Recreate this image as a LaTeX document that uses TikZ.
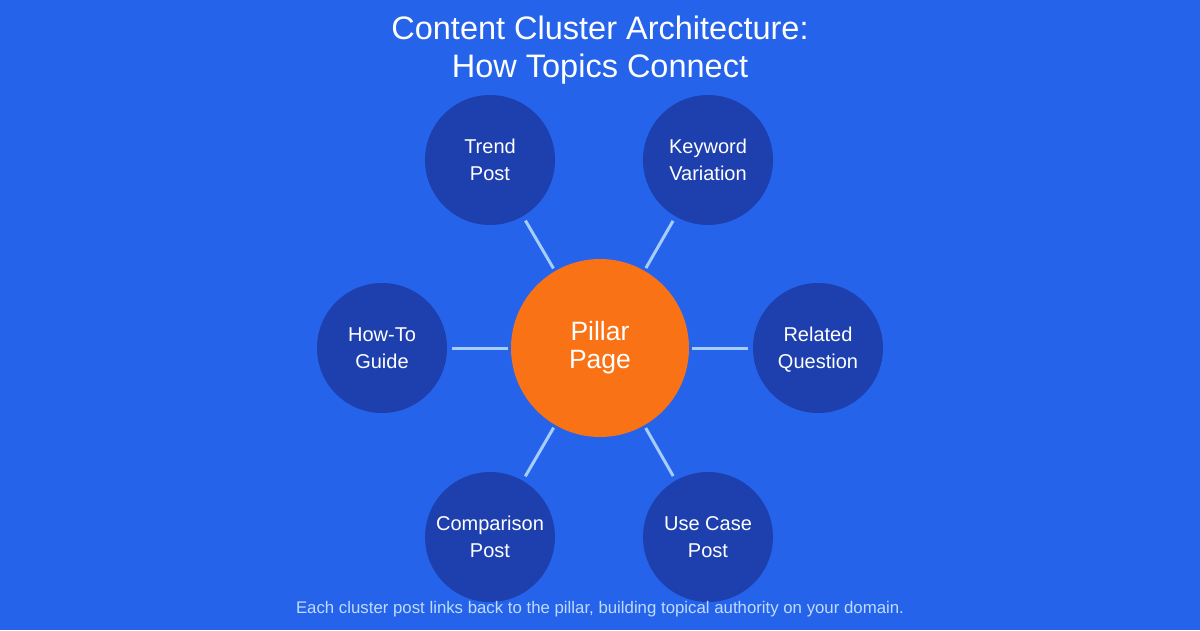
\documentclass[tikz,border=0pt]{standalone}
\usepackage{fontspec}
\setmainfont{Liberation Sans}
\definecolor{bg}{HTML}{2563EB}
\definecolor{sat}{HTML}{1E40AF}
\definecolor{pil}{HTML}{F97316}
\definecolor{ln}{HTML}{A5CDFD}
\definecolor{foot}{HTML}{BFDBFE}
\begin{document}
\begin{tikzpicture}[x=1pt,y=-1pt,
  sat/.style={circle,fill=sat,minimum size=130pt,inner sep=0pt,text=white,align=center,font=\fontsize{20}{27}\selectfont,text depth=-2pt},
  conn/.style={draw=ln,line width=3pt,shorten <=5pt,shorten >=3pt}]
\fill[bg] (0,0) rectangle (1200,630);
\useasboundingbox (0,0) rectangle (1200,630);
\node[text=white,align=center,font=\fontsize{32.5}{38}\selectfont] (title) at (600,50) {Content Cluster Architecture:\\How Topics Connect};
\node[circle,fill=pil,minimum size=178pt,inner sep=0pt,text=white,align=center,font=\fontsize{26.5}{28}\selectfont] (p) at (600,348) {Pillar\\Page};
\node[sat] (t) at (490,160) {Trend\\Post};
\node[sat] (k) at (708,160) {Keyword\\Variation};
\node[sat] (h) at (382,348) {How-To\\Guide};
\node[sat] (r) at (818,348) {Related\\Question};
\node[sat] (c) at (490,537) {Comparison\\Post};
\node[sat] (u) at (708,537) {Use Case\\Post};
\foreach \s in {t,k,h,r,c,u} \draw[conn] (\s) -- (p);
\node[text=foot,font=\fontsize{16.8}{20}\selectfont] (f) at (600,609) {Each cluster post links back to the pillar, building topical authority on your domain.};
\end{tikzpicture}
\end{document}
